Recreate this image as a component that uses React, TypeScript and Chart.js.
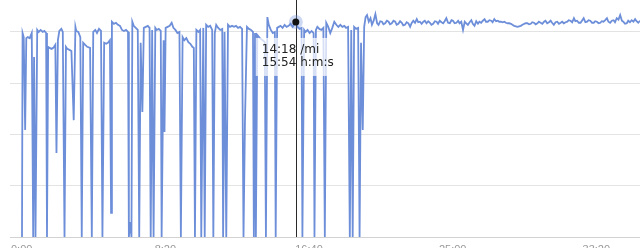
import React, { useEffect, useRef, useState } from "react";
import { Chart, registerables } from "chart.js";

Chart.register(...registerables);

// Elapsed time of each sample, in seconds
const elapsedSeconds: number[] = [
  1, 3, 7, 12, 16, 21, 28, 35, 40, 43, 48, 54, 59, 66, 73, 79, 85, 88, 92, 97,
  104, 110, 117, 121, 126, 131, 138, 143, 149, 154, 159, 166, 173, 181, 187, 190, 197, 204, 209, 214,
  221, 228, 238, 244, 249, 256, 262, 269, 276, 281, 287, 294, 300, 307, 311, 314, 321, 328, 335, 342,
  349, 356, 363, 370, 373, 378, 382, 385, 390, 397, 404, 409, 414, 420, 425, 432, 439, 445, 449, 454,
  459, 465, 470, 477, 484, 487, 494, 497, 501, 508, 515, 522, 528, 535, 542, 549, 554, 560, 566, 573,
  580, 587, 594, 599, 603, 608, 615, 621, 625, 632, 637, 642, 649, 656, 663, 667, 672, 677, 684, 691,
  698, 701, 706, 712, 718, 725, 732, 739, 746, 753, 760, 767, 772, 777, 784, 791, 798, 805, 808, 812,
  815, 820, 829, 839, 846, 850, 855, 860, 867, 874, 881, 884, 889, 895, 901, 908, 915, 922, 929, 936,
  943, 954, 960, 967, 974, 977, 983, 988, 995, 1002, 1009, 1016, 1019, 1024, 1029, 1036, 1043, 1050, 1055, 1060,
  1067, 1074, 1081, 1088, 1095, 1102, 1109, 1116, 1123, 1129, 1136, 1142, 1147, 1152, 1157, 1164, 1171, 1176, 1181, 1187,
  1192, 1197, 1202, 1208, 1214, 1219, 1225, 1231, 1237, 1242, 1248, 1254, 1259, 1265, 1271, 1277, 1282, 1288, 1294, 1300,
  1305, 1311, 1317, 1323, 1328, 1334, 1340, 1346, 1352, 1357, 1363, 1369, 1375, 1380, 1386, 1392, 1398, 1403, 1409, 1415,
  1421, 1426, 1432, 1438, 1444, 1449, 1455, 1461, 1467, 1472, 1478, 1484, 1490, 1496, 1501, 1507, 1513, 1519, 1524, 1530,
  1536, 1542, 1547, 1553, 1559, 1565, 1570, 1576, 1582, 1588, 1593, 1599, 1605, 1611, 1616, 1622, 1628, 1634, 1639, 1645,
  1651, 1657, 1662, 1668, 1674, 1680, 1685, 1691, 1697, 1703, 1708, 1714, 1720, 1726, 1731, 1737, 1743, 1749, 1754, 1760,
  1766, 1772, 1777, 1783, 1789, 1795, 1800, 1806, 1812, 1818, 1823, 1829, 1835, 1841, 1846, 1852, 1858, 1864, 1870, 1876,
  1881, 1887, 1893, 1899, 1904, 1910, 1916, 1922, 1927, 1933, 1939, 1945, 1950, 1956, 1962, 1968, 1973, 1979, 1985, 1991,
  1996, 2002, 2008, 2014, 2019, 2025, 2031, 2037, 2042, 2048, 2054, 2060, 2065, 2071, 2077, 2083, 2089, 2094, 2100, 2106,
  2111, 2117, 2123, 2129, 2135, 2140, 2146, 2152, 2158, 2165,
];

// Speed of each sample, in miles per hour
const speedMph: number[] = [
  0, 3.98, 3.9, 2.09, 3.88, 3.9, 3.88, 3.98, 0, 3.51, 0, 4.04, 4.0, 4.04, 4.0, 4.02, 3.98, 0, 3.71, 3.69,
  3.67, 3.69, 3.75, 1.64, 3.84, 4.02, 4.06, 4.0, 0, 3.71, 3.67, 3.65, 3.63, 2.28, 4.1, 4.02, 4.0, 3.9, 0, 3.79,
  3.75, 3.71, 3.69, 0, 4.0, 4.04, 3.98, 4.06, 4.02, 0, 3.79, 3.77, 3.79, 3.84, 0.47, 4.2, 4.16, 4.18, 4.14, 4.12,
  4.04, 4.02, 4.04, 4.0, 0, 0.29, 0, 4.2, 4.12, 4.08, 4.04, 0, 3.79, 2.44, 4.08, 4.1, 4.12, 4.08, 0, 4.04,
  0, 4.08, 4.04, 4.06, 4.02, 0, 3.84, 2.05, 4.08, 4.1, 4.12, 4.18, 4.08, 4.04, 3.98, 4.0, 0, 3.9, 3.84, 3.88,
  3.8, 3.77, 3.71, 3.69, 0, 4.04, 4.0, 4.04, 0, 4.08, 0, 4.14, 4.1, 4.12, 4.04, 0, 3.98, 4.14, 4.08, 4.04,
  4.06, 0, 4.0, 0, 4.14, 4.1, 4.12, 4.1, 4.12, 4.08, 4.1, 4.06, 0, 2.24, 4.1, 4.06, 4.04, 4.0, 0, 3.98,
  0, 3.94, 3.88, 3.84, 3.8, 0, 4.29, 4.14, 4.04, 3.98, 4.0, 0, 4.08, 4.1, 4.12, 4.08, 4.14, 4.1, 4.12, 4.16,
  4.1, 4.196, 4.1, 4.06, 4.08, 0, 4.04, 4.0, 4.04, 3.98, 4.02, 3.98, 0, 4.04, 4.1, 4.06, 4.04, 4.08, 0, 4.18,
  4.1, 3.98, 4.08, 4.2, 4.14, 4.1, 4.14, 4.1, 4.12, 4.08, 4.1, 0, 4.04, 0, 4.1, 4.06, 4.08, 0, 3.79, 2.09,
  4.1, 4.29, 4.33, 4.2, 4.27, 4.14, 4.22, 4.35, 4.17, 4.14, 4.21, 4.2, 4.15, 4.17, 4.22, 4.2, 4.15, 4.17, 4.22, 4.2,
  4.14, 4.16, 4.21, 4.18, 4.13, 4.14, 4.19, 4.17, 4.1, 4.17, 4.22, 4.18, 4.25, 4.19, 4.2, 4.16, 4.2, 4.22, 4.17, 4.21,
  4.18, 4.14, 4.16, 4.21, 4.2, 4.16, 4.22, 4.19, 4.17, 4.21, 4.27, 4.18, 4.17, 4.23, 4.22, 4.17, 4.18, 4.22, 4.17, 4.2,
  4.04, 4.2, 4.17, 4.14, 4.19, 4.23, 4.16, 4.12, 4.21, 4.16, 4.2, 4.18, 4.22, 4.25, 4.2, 4.2, 4.23, 4.22, 4.19, 4.25,
  4.21, 4.22, 4.2, 4.2, 4.19, 4.2, 4.18, 4.17, 4.17, 4.16, 4.14, 4.12, 4.11, 4.1, 4.11, 4.12, 4.14, 4.16, 4.17, 4.17,
  4.15, 4.16, 4.19, 4.18, 4.15, 4.17, 4.2, 4.18, 4.16, 4.2, 4.22, 4.17, 4.19, 4.22, 4.18, 4.14, 4.19, 4.2, 4.16, 4.18,
  4.2, 4.17, 4.19, 4.2, 4.23, 4.22, 4.19, 4.27, 4.21, 4.22, 4.18, 4.18, 4.22, 4.27, 4.19, 4.2, 4.23, 4.22, 4.18, 4.18,
  4.21, 4.2, 4.17, 4.18, 4.21, 4.2, 4.23, 4.27, 4.2, 4.18, 4.22, 4.23, 4.19, 4.27, 4.24, 4.33, 4.22, 4.2, 4.16, 4.17,
  4.22, 4.19, 4.23, 4.2, 4.25, 4.21, 4.18, 4.22, 4.2, 4.22,
];

const xTickSeconds: number[] = [0, 500, 1000, 1500, 2000];
const yGridMph: number[] = [0, 1, 2, 3, 4];
const highlightSecond = 954;

const LINE_COLOR = "#6d8ed9";

function formatClock(sec: number): string {
  const total = Math.round(sec);
  const m = Math.floor(total / 60);
  const s = total % 60;
  return `${m}:${String(s).padStart(2, "0")}`;
}

function formatPace(mph: number): string {
  return formatClock((60 / mph) * 60);
}

const CANVAS_LEFT = 5;

export default function App() {
  const canvasRef = useRef<HTMLCanvasElement | null>(null);
  const [tip, setTip] = useState<{ x: number; y: number; pace: string; time: string } | null>(null);

  useEffect(() => {
    const idx = elapsedSeconds.indexOf(highlightSecond);
    const crosshair = {
      id: "crosshair",
      afterDatasetsDraw(chart: any) {
        const { ctx, chartArea, scales } = chart;
        const x = scales.x.getPixelForValue(highlightSecond);
        const y = scales.y.getPixelForValue(speedMph[idx]);
        ctx.save();
        ctx.fillStyle = "rgba(255,255,255,0.72)";
        ctx.fillRect(x - 40, y + 16, 77, 38);
        ctx.strokeStyle = "#2a2a2a";
        ctx.lineWidth = 1;
        ctx.beginPath();
        const lx = Math.round(x) + 0.5;
        ctx.moveTo(lx, chartArea.top);
        ctx.lineTo(lx, chartArea.bottom);
        ctx.stroke();
        ctx.fillStyle = "rgba(111,143,217,0.35)";
        ctx.beginPath();
        ctx.arc(x, y, 7, 0, Math.PI * 2);
        ctx.fill();
        ctx.fillStyle = "#111";
        ctx.beginPath();
        ctx.arc(x, y, 3.5, 0, Math.PI * 2);
        ctx.fill();
        ctx.restore();
      },
    };

    const chart = new Chart(canvasRef.current as HTMLCanvasElement, {
      type: "line",
      data: {
        datasets: [
          {
            data: elapsedSeconds.map((x, i) => ({ x, y: speedMph[i] })),
            borderColor: LINE_COLOR,
            borderWidth: 1.8,
            pointRadius: 0,
            tension: 0,
            fill: false,
          },
        ],
      },
      options: {
        animation: false,
        responsive: true,
        maintainAspectRatio: false,
        events: [],
        layout: { padding: 0 },
        plugins: { legend: { display: false }, tooltip: { enabled: false } },
        scales: {
          x: {
            type: "linear",
            min: -41.5,
            max: 2152,
            grid: { display: false, drawTicks: false },
            border: { display: false },
            afterBuildTicks: (s: any) => {
              s.ticks = xTickSeconds.map((v) => ({ value: v }));
            },
            afterFit: (s: any) => {
              s.height = 20;
            },
            ticks: {
              padding: 6,
              color: "#999",
              autoSkip: false,
              maxRotation: 0,
              font: { family: "'Liberation Sans', Arial, sans-serif", size: 11 },
              callback: (v: any) => formatClock(Number(v)),
            },
          },
          y: {
            type: "linear",
            min: 0,
            max: 4.624,
            afterBuildTicks: (s: any) => {
              s.ticks = yGridMph.map((v) => ({ value: v }));
            },
            afterFit: (s: any) => {
              s.width = 0;
            },
            ticks: { display: false },
            grid: {
              drawTicks: false,
              lineWidth: 1,
              color: (c: any) => (c.tick && c.tick.value === 0 ? "#d2d2d2" : "#e3e3e3"),
            },
            border: { display: false },
          },
        },
      },
      plugins: [crosshair],
    });

    const px = chart.scales.x.getPixelForValue(highlightSecond);
    const py = chart.scales.y.getPixelForValue(speedMph[idx]);
    setTip({
      x: px + CANVAS_LEFT,
      y: py,
      pace: `${formatPace(speedMph[idx])} /mi`,
      time: `${formatClock(highlightSecond)} h:m:s`,
    });

    return () => chart.destroy();
  }, []);

  return (
    <div
      style={{
        position: "fixed",
        left: 0,
        top: 0,
        width: 640,
        height: 248,
        overflow: "hidden",
        background: "#fff",
      }}
    >
      <div style={{ position: "absolute", left: CANVAS_LEFT, top: 0, width: 635, height: 257 }}>
        <canvas ref={canvasRef} />
      </div>
      {tip && (
        <div
          style={{
            position: "absolute",
            left: tip.x - 34,
            top: tip.y + 20.6,
            font: "12px 'DejaVu Sans', sans-serif",
            lineHeight: "13.3px",
            color: "#222",
            whiteSpace: "nowrap",
          }}
        >
          <div>{tip.pace}</div>
          <div>{tip.time}</div>
        </div>
      )}
    </div>
  );
}
